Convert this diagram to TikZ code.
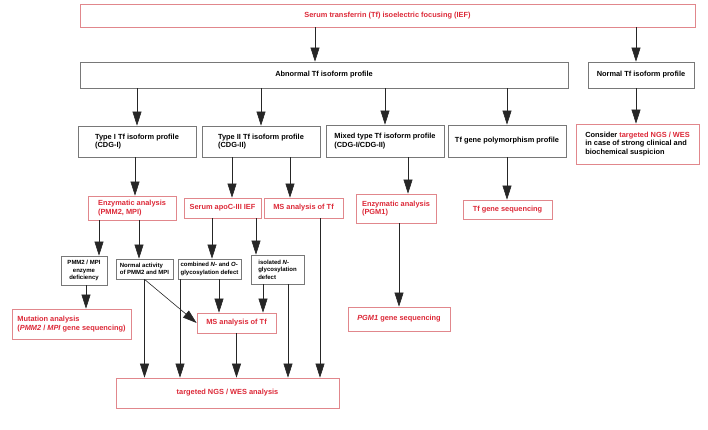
\documentclass[tikz,border=0pt]{standalone}
\usepackage{fontspec}
\setmainfont{Liberation Sans}
\usetikzlibrary{arrows.meta}
\definecolor{tfred}{RGB}{220,40,55}
\definecolor{tfpink}{RGB}{225,135,140}
\definecolor{tfgray}{RGB}{120,120,120}
\tikzset{
    box/.style = {draw=tfgray, line width=0.7pt, inner sep=3pt, font=\fontsize{7.4}{8.6}\selectfont\bfseries},
    redbox/.style = {box, draw=tfpink, text=tfred},
    smallbox/.style = {box, inner sep=1.5pt, font=\fontsize{6}{7.4}\selectfont\bfseries},
    flow/.style = {draw=black!85, line width=0.6pt, -{Triangle[width=9pt, length=14pt]}}
}

\begin{document}
\begin{tikzpicture}[x=1pt, y=-1pt]
    \useasboundingbox (0,0) rectangle (708,430);
    % place first two rows
    \node[redbox, minimum width=615pt, minimum height=23pt] (ief) at (387.5,15.5) {Serum transferrin (Tf) isoelectric focusing (IEF)};
    \node[box, minimum width=488pt, minimum height=26pt] (abnormal) at (324,75) {Abnormal Tf isoform profile};
    \node[box, minimum width=106pt, minimum height=26pt] (normal) at (641,75) {Normal Tf isoform profile};
    % place isoform profile types
    \node[box, minimum width=118pt, minimum height=31pt, align=left] (type-1) at (137,141.5) {Type I Tf isoform profile\\(CDG-I)};
    \node[box, minimum width=118pt, minimum height=31pt, align=left] (type-2) at (261,141.5) {Type II Tf isoform profile\\(CDG-II)};
    \node[box, minimum width=118pt, minimum height=32pt, align=left] (mixed) at (385,141) {Mixed type Tf isoform profile\\(CDG-I/CDG-II)};
    \node[box, minimum width=118pt, minimum height=32pt] (poly) at (507,141) {Tf gene polymorphism profile};
    \node[box, draw=tfpink, minimum width=123pt, minimum height=40pt, align=left] (consider) at (637.5,144) {Consider \textcolor{tfred}{targeted NGS / WES}\\in case of strong clinical and\\biochemical suspicion};
    % place analyses
    \node[redbox, minimum width=88pt, minimum height=24pt, align=left] (enz-pmm) at (132,208) {Enzymatic analysis\\(PMM2, MPI)};
    \node[redbox, minimum width=77pt, minimum height=20pt] (apoc) at (222.5,208) {Serum apoC-III IEF};
    \node[redbox, minimum width=79pt, minimum height=20pt] (ms-1) at (303.5,208) {MS analysis of Tf};
    \node[redbox, minimum width=80pt, minimum height=29pt, align=left] (enz-pgm) at (396,208.5) {Enzymatic analysis\\(PGM1)};
    \node[redbox, minimum width=89pt, minimum height=19pt] (tf-seq) at (507.5,209.5) {Tf gene sequencing};
    % place enzyme and glycosylation results
    \node[smallbox, minimum width=46pt, minimum height=29pt, align=center] (pmm-def) at (84,270.5) {PMM2 / MPI\\enzyme\\deficiency};
    \node[smallbox, minimum width=57pt, minimum height=20pt, align=left] (normal-act) at (144.5,269) {Normal activity\\of PMM2 and MPI};
    \node[smallbox, minimum width=63pt, minimum height=20pt, align=left] (combined) at (209.5,269) {combined \textit{N}- and \textit{O}-\\glycosylation defect};
    \node[smallbox, minimum width=53pt, minimum height=29pt, align=left] (isolated) at (277.5,269.5) {isolated \textit{N}-\\glycosylation\\defect};
    % place sequencing boxes
    \node[redbox, minimum width=119pt, minimum height=30pt, align=left] (mutation) at (71.5,324) {Mutation analysis\\(\textit{PMM2} / \textit{MPI} gene sequencing)};
    \node[redbox, minimum width=79pt, minimum height=20pt] (ms-2) at (236.5,323) {MS analysis of Tf};
    \node[redbox, minimum width=102pt, minimum height=24pt] (pgm-seq) at (399,319) {\textit{PGM1} gene sequencing};
    \node[redbox, minimum width=223pt, minimum height=30pt] (ngs) at (227.5,393) {targeted NGS / WES analysis};

    % draw first levels
    \draw[flow] (315,0 |- ief.south) -- (315,0 |- abnormal.north);
    \draw[flow] (636,0 |- ief.south) -- (636,0 |- normal.north);
    \draw[flow] (abnormal.south -| type-1.north) -- (type-1.north);
    \draw[flow] (abnormal.south -| type-2.north) -- (type-2.north);
    \draw[flow] (abnormal.south -| mixed.north) -- (mixed.north);
    \draw[flow] (abnormal.south -| poly.north) -- (poly.north);
    \draw[flow] (636,0 |- normal.south) -- (636,0 |- consider.north);
    % draw profiles to analyses
    \draw[flow] (135,0 |- type-1.south) -- (135,0 |- enz-pmm.north);
    \draw[flow] (232,0 |- type-2.south) -- (232,0 |- apoc.north);
    \draw[flow] (290,0 |- type-2.south) -- (290,0 |- ms-1.north);
    \draw[flow] (408,0 |- mixed.south) -- (408,0 |- enz-pgm.north);
    \draw[flow] (poly.south) -- (poly.south |- tf-seq.north);
    \draw[flow] (399,0 |- enz-pgm.south) -- (399,0 |- pgm-seq.north);
    % draw analyses to results
    \draw[flow] (99,0 |- enz-pmm.south) -- (99,0 |- pmm-def.north);
    \draw[flow] (139,0 |- enz-pmm.south) -- (139,0 |- normal-act.north);
    \draw[flow] (212,0 |- apoc.south) -- (212,0 |- combined.north);
    \draw[flow] (256,0 |- apoc.south) -- (256,0 |- isolated.north);
    \draw[flow] (86,0 |- pmm-def.south) -- (86,0 |- mutation.north);
    \draw[flow] (219,0 |- combined.south) -- (219,0 |- ms-2.north);
    \draw[flow] (263,0 |- isolated.south) -- (263,0 |- ms-2.north);
    \draw[flow] (normal-act.south) -- (ms-2.west);
    % draw everything down to NGS / WES
    \draw[flow] (normal-act.south) -- (normal-act.south |- ngs.north);
    \draw[flow] (180,0 |- combined.south) -- (180,0 |- ngs.north);
    \draw[flow] (ms-2.south) -- (ms-2.south |- ngs.north);
    \draw[flow] (288,0 |- isolated.south) -- (288,0 |- ngs.north);
    \draw[flow] (320,0 |- ms-1.south) -- (320,0 |- ngs.north);
\end{tikzpicture}
\end{document}
